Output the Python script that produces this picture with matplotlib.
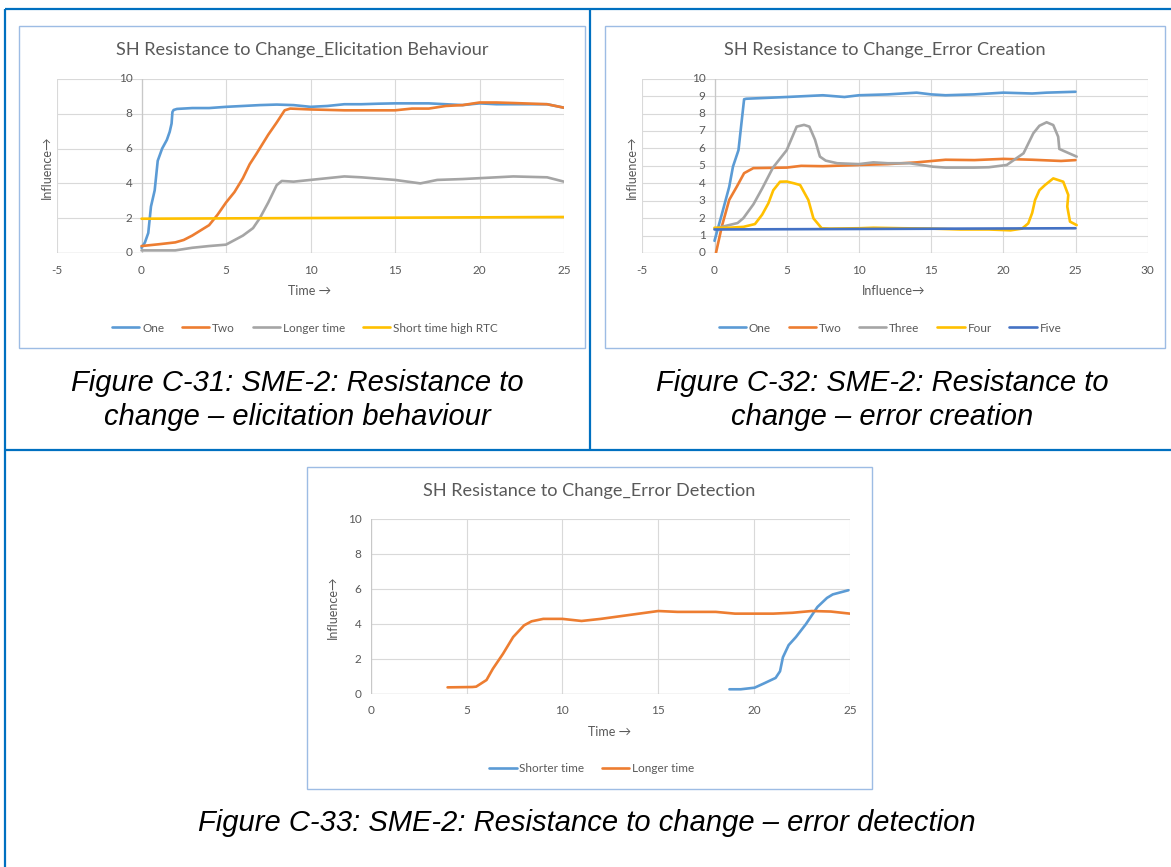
import matplotlib.pyplot as plt
from matplotlib.transforms import offset_copy
from matplotlib.patches import Rectangle

# ---- data -----------------------------------------------------------------
# Figure C-31: elicitation behaviour
c1_one_x = [0, 0.2, 0.4, 0.56, 0.78, 0.96, 1.22, 1.5, 1.67, 1.78, 1.83, 1.9, 2.1, 3, 4, 5, 6, 7, 8, 9, 10, 11, 12, 13, 14, 15, 16, 17, 18, 19, 20, 21, 22, 23, 24, 25]
c1_one_y = [0.3, 0.6, 1.15, 2.67, 3.6, 5.3, 6.0, 6.5, 6.97, 7.44, 8.1, 8.22, 8.28, 8.33, 8.33, 8.4, 8.45, 8.5, 8.53, 8.5, 8.4, 8.45, 8.55, 8.55, 8.58, 8.6, 8.6, 8.6, 8.55, 8.5, 8.6, 8.55, 8.55, 8.55, 8.55, 8.35]
c1_two_x = [0, 1, 2, 2.5, 3, 3.5, 4, 4.5, 5, 5.5, 6, 6.4, 6.8, 7.5, 8, 8.47, 8.8, 10, 12, 13, 15, 16, 17, 18, 19, 20, 21, 22, 24, 25]
c1_two_y = [0.4, 0.5, 0.61, 0.75, 1.0, 1.3, 1.6, 2.2, 2.9, 3.5, 4.3, 5.1, 5.7, 6.8, 7.5, 8.2, 8.3, 8.25, 8.2, 8.2, 8.2, 8.3, 8.3, 8.45, 8.5, 8.65, 8.65, 8.62, 8.55, 8.35]
c1_long_x = [0, 2, 3, 4, 5, 6, 6.6, 7, 7.5, 8, 8.3, 9, 10, 11, 12, 13, 15, 16.5, 17.5, 19, 20, 21, 22, 24, 25]
c1_long_y = [0.15, 0.15, 0.3, 0.4, 0.48, 1.0, 1.43, 2.0, 2.9, 3.9, 4.14, 4.1, 4.2, 4.3, 4.4, 4.35, 4.2, 4.0, 4.2, 4.25, 4.3, 4.35, 4.4, 4.35, 4.1]
c1_short_x = [0, 25]
c1_short_y = [1.97, 2.07]

# Figure C-32: error creation
c2_one_x = [0, 0.5, 1.02, 1.28, 1.66, 2.05, 2.2, 5, 7.5, 9, 10, 12, 14, 15, 16, 18, 20, 22, 23, 25]
c2_one_y = [0.7, 2.2, 3.8, 4.96, 5.9, 8.82, 8.85, 8.95, 9.05, 8.95, 9.05, 9.1, 9.2, 9.1, 9.05, 9.1, 9.2, 9.15, 9.2, 9.25]
c2_two_x = [0.1, 0.51, 1.02, 1.54, 2.05, 2.69, 5, 6, 7.5, 10, 12, 14, 16, 18, 20, 22, 24, 25]
c2_two_y = [0.0, 1.53, 3.05, 3.8, 4.58, 4.87, 4.9, 5.0, 4.98, 5.05, 5.1, 5.2, 5.35, 5.33, 5.4, 5.35, 5.28, 5.33]
c2_three_x = [0, 1, 1.6, 2.0, 2.7, 3.3, 4.05, 5.0, 5.69, 6.2, 6.57, 6.96, 7.3, 7.7, 8.5, 10, 11, 12, 13.5, 15.15, 16, 18, 19, 20.24, 21.4, 22.08, 22.5, 23.0, 23.46, 23.8, 23.88, 24.2, 25.08]
c2_three_y = [1.4, 1.6, 1.72, 2.0, 2.8, 3.7, 4.9, 5.9, 7.25, 7.35, 7.25, 6.5, 5.53, 5.3, 5.15, 5.1, 5.2, 5.15, 5.15, 4.95, 4.9, 4.9, 4.92, 5.05, 5.72, 6.87, 7.3, 7.5, 7.34, 6.67, 5.97, 5.85, 5.53]
c2_four_x = [0, 1, 2, 2.8, 3.3, 3.73, 4.07, 4.54, 5.0, 5.5, 5.93, 6.5, 6.85, 7.42, 8, 10, 11, 13, 15, 17, 19, 20.5, 21.3, 21.73, 22.0, 22.2, 22.5, 22.89, 23.46, 24.15, 24.5, 24.43, 24.62, 25.08]
c2_four_y = [1.45, 1.45, 1.5, 1.66, 2.2, 2.85, 3.6, 4.09, 4.1, 4.0, 3.9, 3.04, 1.99, 1.42, 1.4, 1.42, 1.45, 1.42, 1.4, 1.35, 1.35, 1.3, 1.4, 1.7, 2.3, 3.04, 3.6, 3.9, 4.28, 4.09, 3.33, 2.66, 1.8, 1.6]
c2_five_x = [0, 25]
c2_five_y = [1.35, 1.42]

# Figure C-33: error detection
c3_short_x = [18.71, 19.3, 20.02, 20.5, 21.12, 21.35, 21.5, 21.8, 22.18, 22.7, 23.3, 23.8, 24.1, 24.92]
c3_short_y = [0.27, 0.27, 0.36, 0.6, 0.92, 1.3, 2.1, 2.8, 3.26, 4.0, 4.98, 5.5, 5.7, 5.94]
c3_long_x = [4.01, 5.3, 5.5, 6.04, 6.37, 6.9, 7.43, 8.0, 8.39, 9, 10, 11, 12, 13, 14, 15, 16, 17, 18, 19, 20, 21, 22, 23, 24, 25]
c3_long_y = [0.38, 0.4, 0.42, 0.8, 1.44, 2.3, 3.26, 3.93, 4.16, 4.3, 4.3, 4.18, 4.3, 4.45, 4.6, 4.75, 4.7, 4.7, 4.7, 4.6, 4.6, 4.6, 4.65, 4.75, 4.72, 4.6]

BLUE, ORANGE, GREY, GOLD, DBLUE = '#5B9BD5', '#ED7D31', '#A5A5A5', '#FFC000', '#4472C4'
TXT = '#595959'
FONT = ['Lato', 'DejaVu Sans']

W, H = 1171, 867
fig = plt.figure(figsize=(W / 100, H / 100), dpi=100)

# background layer in pixel coordinates
bg = fig.add_axes([0, 0, 1, 1])
bg.set_xlim(0, W)
bg.set_ylim(H, 0)
bg.axis('off')

tbl = dict(color='#0070C0', lw=1.6, solid_capstyle='butt')
bg.plot([4.5, W], [9, 9], **tbl)
bg.plot([4.5, 4.5], [9, H], **tbl)
bg.plot([590, 590], [9, 450], **tbl)
bg.plot([4.5, W], [450, 450], **tbl)

for x0, y0, x1, y1 in [(19.3, 25.7, 585.3, 347.7), (604.7, 25.7, 1165.3, 347.7), (306.7, 467, 872.3, 789)]:
    bg.add_patch(Rectangle((x0, y0), x1 - x0, y1 - y0, fill=False, ec='#9DBCE4', lw=1.0))

cap = dict(fontsize=21, style='italic', family='Liberation Sans', ha='center', va='center', color='black')
bg.text(297.5, 383, 'Figure C-31: SME-2: Resistance to', **cap)
bg.text(297.5, 417, 'change \u2013 elicitation behaviour', **cap)
bg.text(882, 383, 'Figure C-32: SME-2: Resistance to', **cap)
bg.text(882, 417, 'change \u2013 error creation', **cap)
bg.text(587, 823, 'Figure C-33: SME-2: Resistance to change \u2013 error detection', **cap)


def chart(x0, y0, x1, y1, xlim, xticks, yticks, series, title, tpos, xlab, xpos, ylab, ypos, lpos):
    ax = fig.add_axes([x0 / W, 1 - y1 / H, (x1 - x0) / W, (y1 - y0) / H])
    ax.set_xlim(*xlim)
    ax.set_ylim(0, 10)
    ax.set_xticks(xticks)
    ax.set_yticks(yticks)
    ax.grid(True, color='#D9D9D9', lw=0.8)
    ax.set_axisbelow(True)
    for s in ax.spines.values():
        s.set_visible(False)
    ax.tick_params(length=0, labelleft=False, labelbottom=False)
    ax.axhline(0, color='#BFBFBF', lw=0.9, zorder=1.5)
    ax.axvline(0, color='#C8C8C8', lw=0.9, zorder=1.5)
    ylab_tr = offset_copy(ax.transData, fig=fig, x=-9, y=0, units='dots')
    for v in yticks:
        ax.text(0, v, str(v), transform=ylab_tr, ha='right', va='center',
                fontsize=8.5, color=TXT, family=FONT, clip_on=False)
    xlab_tr = offset_copy(ax.transData, fig=fig, x=0, y=-17, units='dots')
    for v in xticks:
        ax.text(v, 0, str(v), transform=xlab_tr, ha='center', va='center',
                fontsize=8.5, color=TXT, family=FONT, clip_on=False)
    for xs, ys, c, name in series:
        ax.plot(xs, ys, color=c, lw=1.9, label=name, solid_capstyle='round')
    bg.text(tpos[0], tpos[1], title, ha='center', va='center', fontsize=13.1, color=TXT, family=FONT)
    bg.text(xpos[0], xpos[1], xlab, ha='center', va='center', fontsize=9, color=TXT, family=FONT)
    bg.text(ypos[0], ypos[1], ylab, ha='center', va='center', rotation=90, fontsize=9, color=TXT, family=FONT)
    ax.legend(loc='center', bbox_to_anchor=(lpos[0] / W, 1 - lpos[1] / H), bbox_transform=fig.transFigure,
              ncol=len(series), frameon=False, handlelength=2.3, handletextpad=0.25, columnspacing=1.5,
              prop={'family': FONT, 'size': 8.5}, labelcolor=TXT)
    return ax


chart(57, 79, 564, 253, (-5, 25), [-5, 0, 5, 10, 15, 20, 25], [0, 2, 4, 6, 8, 10],
      [(c1_one_x, c1_one_y, BLUE, 'One'), (c1_two_x, c1_two_y, ORANGE, 'Two'),
       (c1_long_x, c1_long_y, GREY, 'Longer time'), (c1_short_x, c1_short_y, GOLD, 'Short time high RTC')],
      'SH Resistance to Change_Elicitation Behaviour', (302, 50), 'Time \u2192', (310, 291),
      'Influence\u2192', (47, 167), (305, 328))

chart(642.3, 78.7, 1147.7, 253, (-5, 30), [-5, 0, 5, 10, 15, 20, 25, 30], list(range(11)),
      [(c2_one_x, c2_one_y, BLUE, 'One'), (c2_two_x, c2_two_y, ORANGE, 'Two'),
       (c2_three_x, c2_three_y, GREY, 'Three'), (c2_four_x, c2_four_y, GOLD, 'Four'),
       (c2_five_x, c2_five_y, DBLUE, 'Five')],
      'SH Resistance to Change_Error Creation', (885, 50), 'Influence\u2192', (894, 291),
      'Influence\u2192', (632, 167), (890, 328))

chart(370.7, 519.3, 850, 694, (0, 25), [0, 5, 10, 15, 20, 25], [0, 2, 4, 6, 8, 10],
      [(c3_short_x, c3_short_y, BLUE, 'Shorter time'), (c3_long_x, c3_long_y, ORANGE, 'Longer time')],
      'SH Resistance to Change_Error Detection', (589.5, 491), 'Time \u2192', (610, 732),
      'Influence\u2192', (333, 607), (592, 769))

fig.savefig('out.png', dpi=100)
